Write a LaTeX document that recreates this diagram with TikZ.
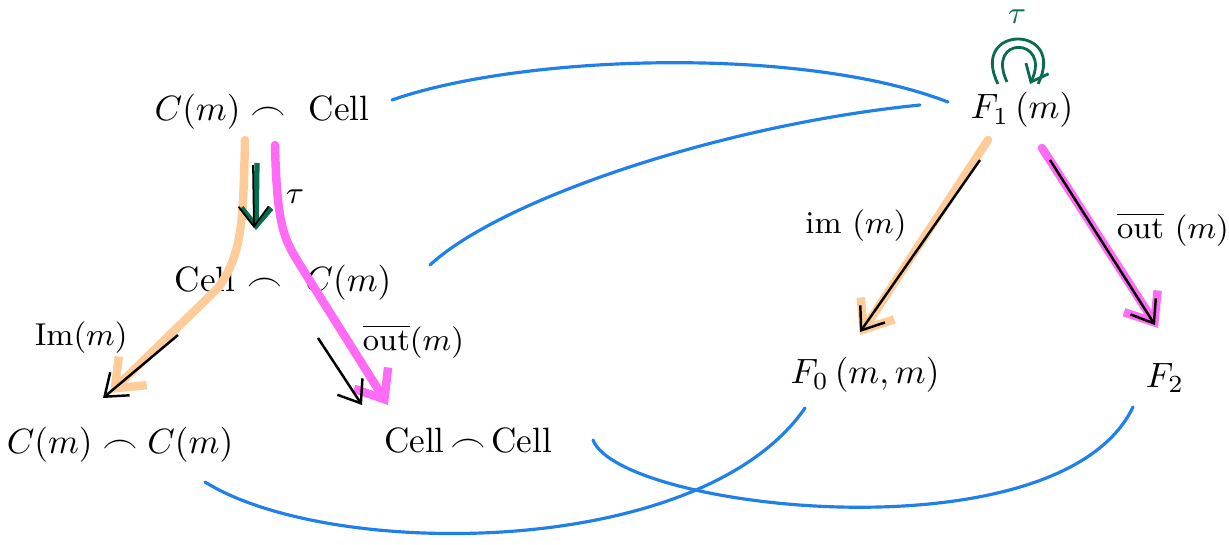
\documentclass[tikz,border=0pt]{standalone}
\usepackage{amsmath,amssymb}
\usepackage{xcolor}
\usepackage{tikz}
\usetikzlibrary{arrows.meta}

\definecolor{hlorange}{HTML}{FFCC99}
\definecolor{hlmagenta}{HTML}{FF6BF5}
\definecolor{taugreen}{HTML}{0B6B4E}
\definecolor{linkblue}{HTML}{1F80EA}

\begin{document}
\begin{tikzpicture}[
  x=0.01cm, y=-0.01cm,
  obj/.style={font=\normalsize, inner sep=2pt},
  hlo/.style={draw=hlorange, line width=2.4pt, line cap=round, line join=round, -{Straight Barb[length=2.5mm, width=4mm]}},
  hlm/.style={draw=hlmagenta, line width=2.4pt, line cap=round, line join=round, -{Straight Barb[length=2.5mm, width=4mm]}},
  arr/.style={-{Straight Barb[length=2mm, width=3mm]}, line width=0.7pt},
  tauarr/.style={draw=taugreen, line width=1.5pt, -{Straight Barb[length=1.8mm, width=3mm]}},
  glue/.style={draw=linkblue, line width=0.9pt, line cap=round},
  lbl/.style={font=\small}
]
\useasboundingbox (0,0) rectangle (1229,545);

\node[obj] (cc) at (262,112) {$C(m)\frown$ \ Cell};
\node[obj] (ec) at (283,283) {Cell $\frown$ \ $C(m)$};
\node[obj] (ccl) at (120,445) {$C(m)\frown C(m)$};
\node[obj] (eel) at (468,440) {Cell$\,\frown\,$Cell};
\node[obj] (f1) at (1022,110) {$F_1\,(m)$};
\node[obj] (f0) at (865,375) {$F_0\,(m,m)$};
\node[obj] (f2) at (1165,378) {$F_2$};
\node[lbl, text=taugreen] (tau) at ([shift={(-5,-93)}]f1.center) {$\tau$};

% highlighted composites
\draw[hlo] ([shift={(-17,28)}]cc.center) .. controls +(-2,80) and +(25,-35) .. ([shift={(-65,5)}]ec.center) -- ([shift={(-10,-52)}]ccl.center);
\draw[hlm] ([shift={(13,33)}]cc.center) .. controls +(2,85) and +(-15,-25) .. ([shift={(17,-18)}]ec.center) -- ([shift={(-80,-35)}]eel.center);
\draw[hlo] ([shift={(-34,30)}]f1.center) -- ([shift={(-5,-40)}]f0.center);
\draw[hlm] ([shift={(20,38)}]f1.center) -- ([shift={(-7,-50)}]f2.center);

% maps
\draw[tauarr] ([shift={(-5,51)}]cc.center) -- ([shift={(-27,-53)}]ec.center);
\draw[arr, line width=0.5pt] ([shift={(-9,53)}]cc.center) -- ([shift={(-29,-55)}]ec.center) node[lbl, midway, right, xshift=0.2cm] {$\tau$};
\draw[arr] ([shift={(-105,52)}]ec.center) -- ([shift={(-17,-47)}]ccl.center) node[lbl, midway, above left] {Im$(m)$};
\draw[arr] ([shift={(35,55)}]ec.center) -- ([shift={(-106,-35)}]eel.center) node[lbl, midway, above right, xshift=0.1cm] {$\overline{\text{out}}(m)$};
\draw[arr] ([shift={(-42,50)}]f1.center) -- ([shift={(-5,-43)}]f0.center) node[lbl, pos=0.38, left, xshift=-0.15cm] {im $(m)$};
\draw[arr] ([shift={(28,50)}]f1.center) -- ([shift={(-10,-53)}]f2.center) node[lbl, pos=0.42, right, xshift=0.1cm] {$\overline{\text{out}}\ (m)$};

% tau loop
\draw[taugreen, line width=0.8pt] ([shift={(-24,-26)}]f1.center) .. controls +(-30,-60) and +(30,-60) .. ([shift={(16,-26)}]f1.center);
\draw[taugreen, line width=0.8pt, -{Straight Barb[length=1.5mm, width=2.5mm]}] ([shift={(-15,-28)}]f1.center) .. controls +(-22,-47) and +(22,-47) .. ([shift={(8,-26)}]f1.center);

% correspondences
\draw[glue] ([shift={(130,-12)}]cc.center) .. controls +(128,-45) and +(-148,-57) .. ([shift={(-74,-8)}]f1.center);
\draw[glue] ([shift={(147,-18)}]ec.center) .. controls +(70,-65) and +(-200,20) .. ([shift={(-102,-5)}]f1.center);
\draw[glue] ([shift={(85,37)}]ccl.center) .. controls +(125,78) and +(-105,152) .. ([shift={(-60,33)}]f0.center);
\draw[glue] ([shift={(125,0)}]eel.center) .. controls +(27,70) and +(-73,153) .. ([shift={(-32,29)}]f2.center);

\end{tikzpicture}
\end{document}
